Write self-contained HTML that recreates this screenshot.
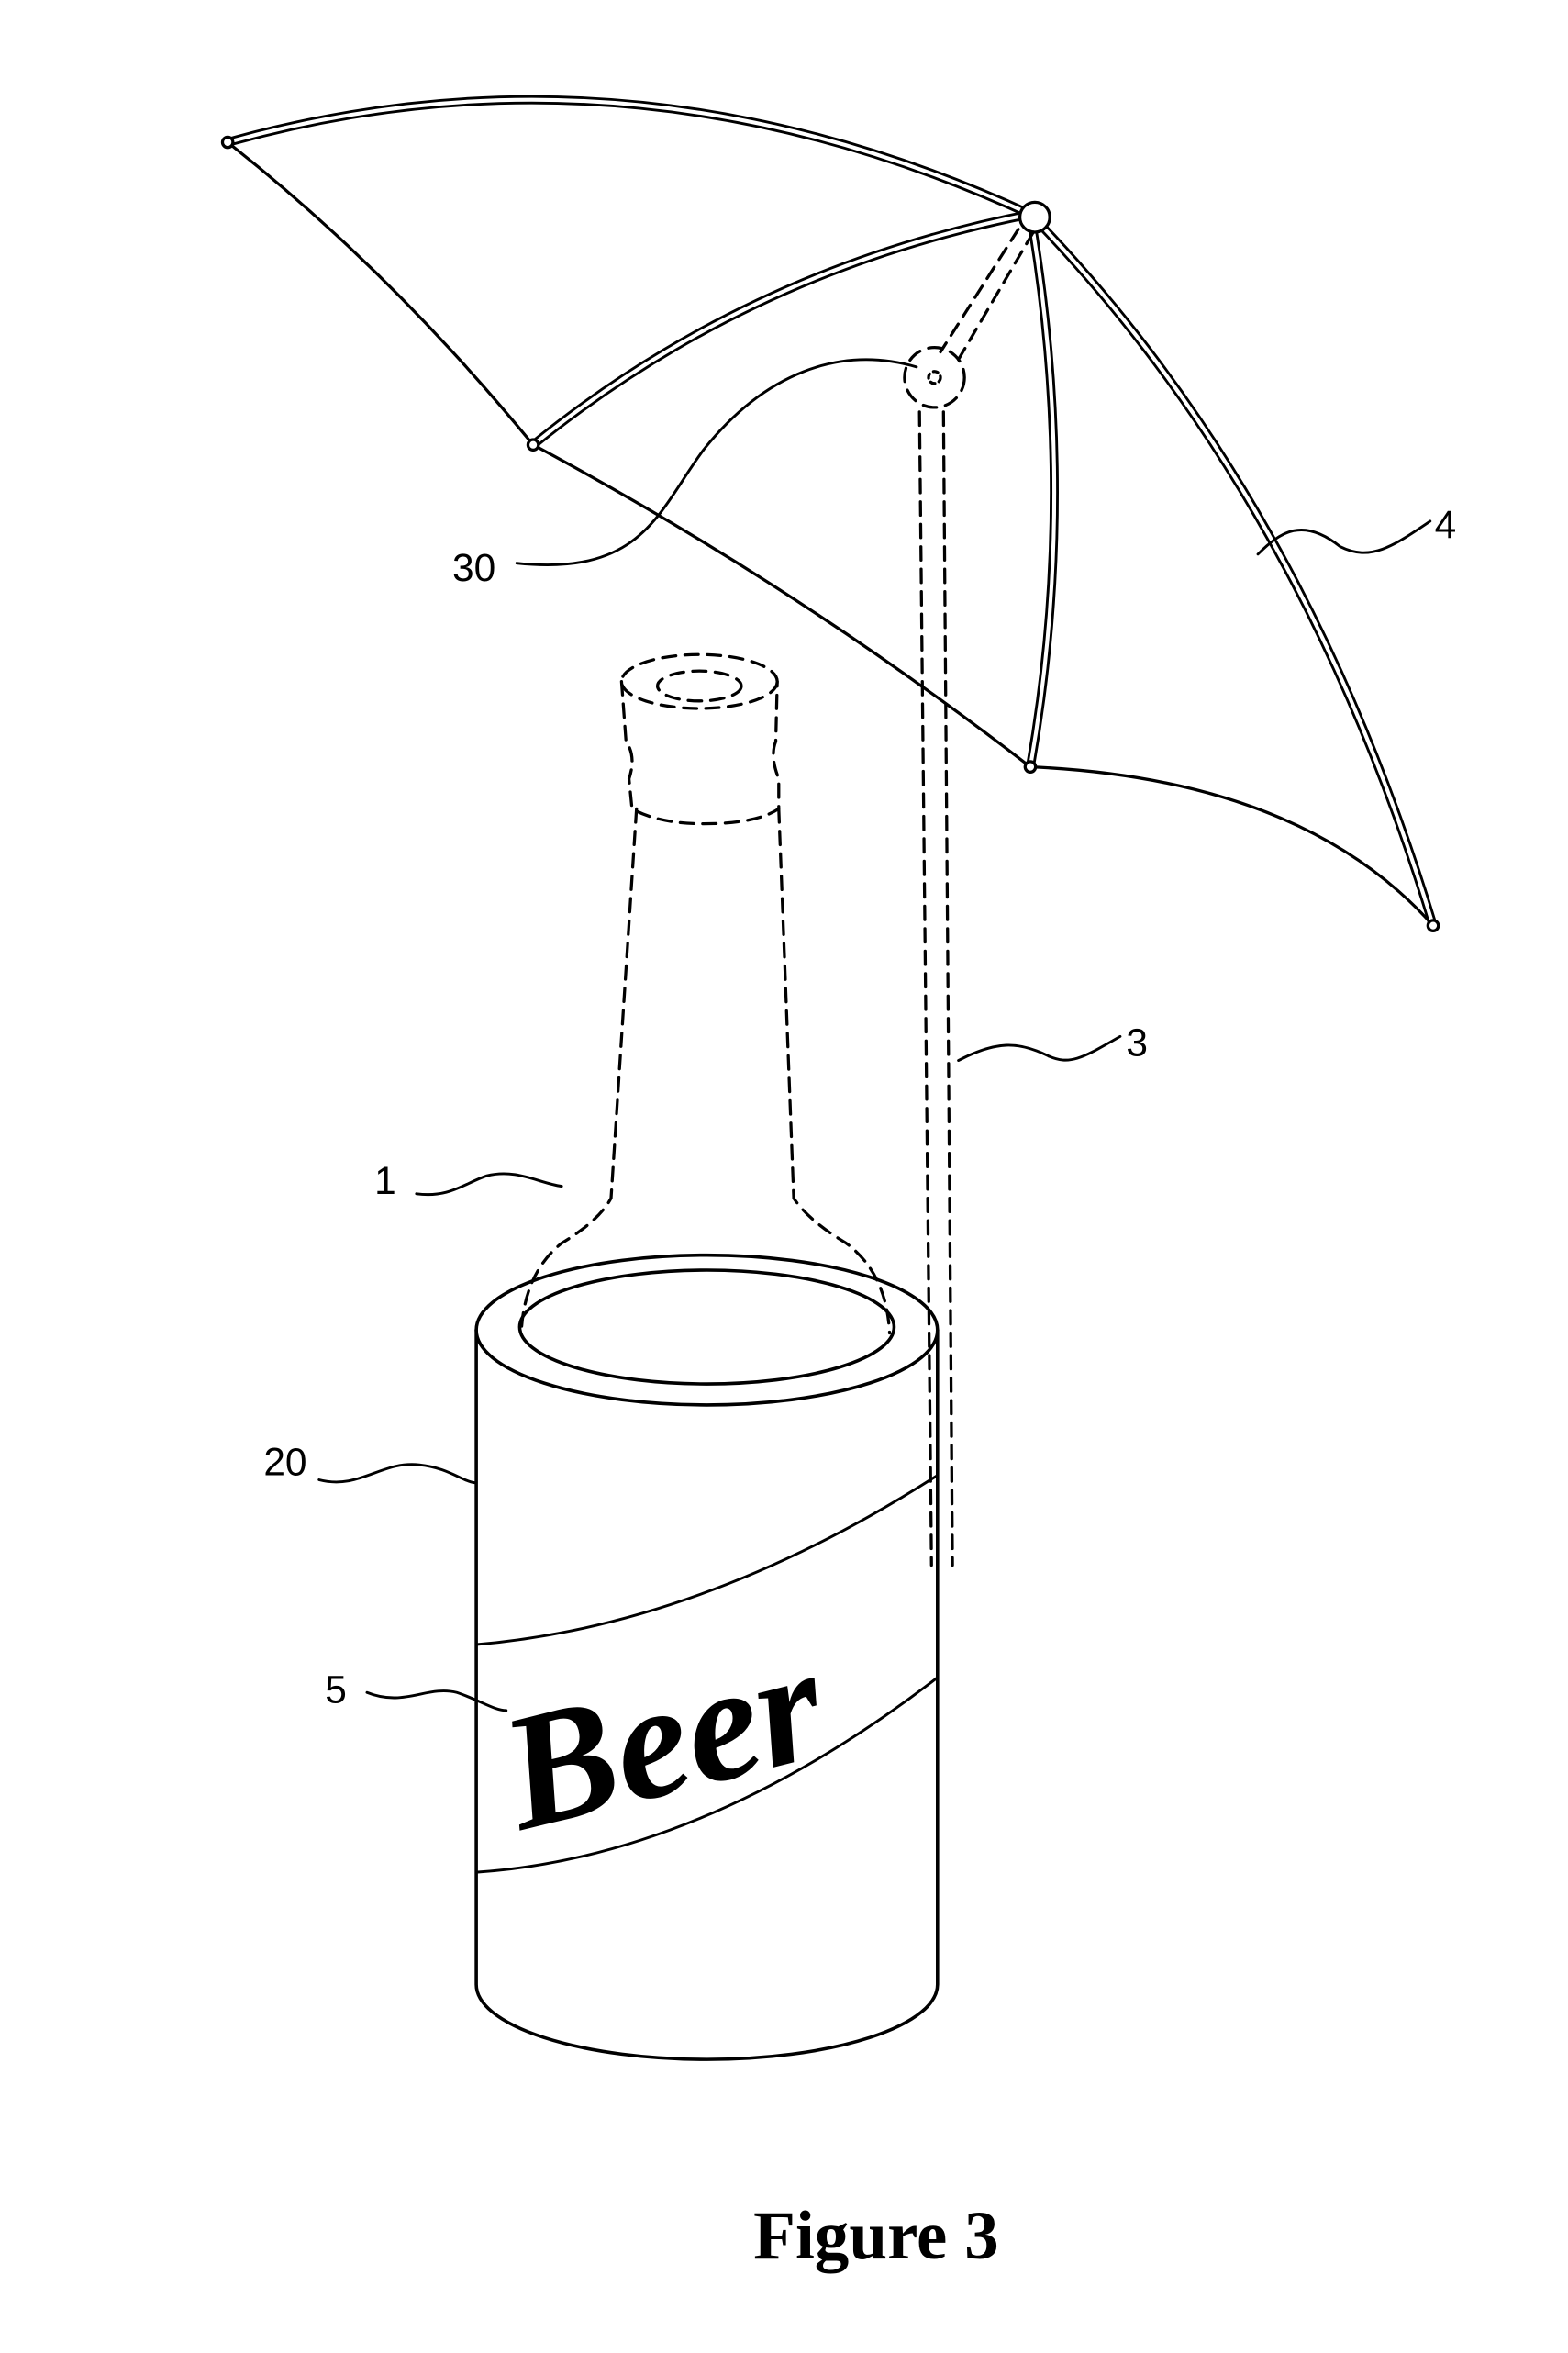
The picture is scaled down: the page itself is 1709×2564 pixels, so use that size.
<!DOCTYPE html>
<html><head><style>html,body{margin:0;padding:0;background:#fff}svg{display:block}</style></head><body>
<svg width="1709" height="2564" viewBox="0 0 1047 1571" xmlns="http://www.w3.org/2000/svg" fill="none" stroke="#000" stroke-linecap="round">
<!-- canopy edges -->
<path d="M152,95 Q260,180 356,297" stroke-width="2"/>
<path d="M356,297 Q530,390 688,512" stroke-width="2"/>
<path d="M688,512 Q870,520 957,618" stroke-width="2"/>
<!-- ribs (double) -->
<g stroke-width="6">
<path d="M152,95 Q420,20 688,143"/>
<path d="M356,297 Q500,180 688,143"/>
<path d="M688,512 Q720,330 688,143"/>
<path d="M957,618 Q870,330 688,143"/>
</g>
<g stroke-width="2.5" stroke="#fff">
<path d="M152,95 Q420,20 688,143"/>
<path d="M356,297 Q500,180 688,143"/>
<path d="M688,512 Q720,330 688,143"/>
<path d="M957,618 Q870,330 688,143"/>
</g>
<circle cx="691" cy="145" r="10" fill="#fff" stroke-width="2"/>
<circle cx="356" cy="297" r="3.5" fill="#fff" stroke-width="2"/>
<circle cx="688" cy="512" r="3.5" fill="#fff" stroke-width="2"/>
<circle cx="957" cy="618" r="3.5" fill="#fff" stroke-width="2"/>
<circle cx="152" cy="95" r="3.5" fill="#fff" stroke-width="2"/>
<!-- pole dashed -->
<g stroke-width="2" stroke-dasharray="9,6">
<path d="M680,153 L628,235"/>
<path d="M690,155 L640,240"/>
<circle cx="624" cy="252" r="20"/>
<circle cx="624" cy="252" r="4" stroke-dasharray="3,3"/>
<path d="M614,275 L622,1045"/>
<path d="M630,275 L636,1045"/>
<!-- bottle -->
<ellipse cx="467" cy="455" rx="52" ry="18"/>
<ellipse cx="467" cy="458" rx="28" ry="10"/>
<path d="M415,455 L418,495 Q425,505 420,520 L422,540 Q440,550 470,550 Q505,550 520,540 L520,520 Q514,505 518,495 L519,455"/>
<path d="M425,540 L408,800 Q400,815 375,830 Q350,850 348,890"/>
<path d="M520,540 L530,800 Q540,815 565,830 Q592,850 594,890"/>
</g>
<!-- can -->
<g stroke-width="2.2">
<path d="M318,888 L318,1325 A154,50 0 0 0 626,1325 L626,888"/>
<ellipse cx="472" cy="888" rx="154" ry="50" fill="none"/>
<ellipse cx="472" cy="886" rx="125" ry="38"/>
<path d="M318,1098 Q470,1085 626,985" stroke-width="1.8"/>
<path d="M318,1250 Q470,1240 626,1120" stroke-width="1.8"/>
</g>
<text x="0" y="0" transform="translate(348,1222) rotate(-14)" font-family="'Liberation Serif',serif" font-style="italic" font-weight="bold" font-size="110" fill="#000" stroke="none">Beer</text>
<!-- leaders -->
<g stroke-width="1.8">
<path d="M345,376 C430,385 440,340 470,300 C510,250 560,230 612,245"/>
<path d="M955,348 C930,365 915,375 895,365 C870,345 855,355 840,370"/>
<path d="M748,692 C725,705 715,712 700,705 C680,695 665,695 640,708"/>
<path d="M278,797 C300,800 310,790 325,785 C345,780 360,790 375,792"/>
<path d="M213,988 C240,995 255,975 280,978 C300,980 310,990 318,990"/>
<path d="M245,1130 C270,1140 285,1125 305,1130 C320,1135 330,1142 338,1142"/>
</g>
<g font-family="'Liberation Sans',sans-serif" font-size="26" fill="#000" stroke="none">
<text x="302" y="388">30</text>
<text x="958" y="359">4</text>
<text x="752" y="705">3</text>
<text x="250" y="797">1</text>
<text x="176" y="985">20</text>
<text x="217" y="1137">5</text>
</g>
<text x="585" y="1508" text-anchor="middle" font-family="'Liberation Serif',serif" font-weight="bold" font-size="46" fill="#000" stroke="none">Figure 3</text>
</svg>
</body></html>
